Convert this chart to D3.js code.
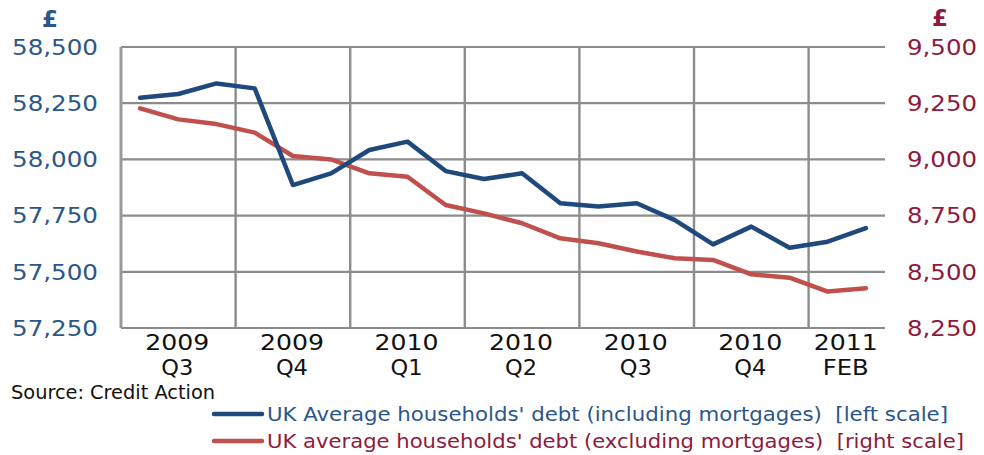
<!DOCTYPE html>
<html>
<head>
<meta charset="utf-8">
<script src="https://cdn.jsdelivr.net/npm/d3@7"></script>
<style>
  html, body { margin: 0; padding: 0; background: #fff; }
  svg { display: block; }
</style>
</head>
<body>
<svg id="chart" width="984" height="455"></svg>
<script>
// ---- data ----
const months = ["Jul 2009","Aug 2009","Sep 2009","Oct 2009","Nov 2009","Dec 2009",
  "Jan 2010","Feb 2010","Mar 2010","Apr 2010","May 2010","Jun 2010",
  "Jul 2010","Aug 2010","Sep 2010","Oct 2010","Nov 2010","Dec 2010",
  "Jan 2011","Feb 2011"];
const inclMortgages = [58274, 58291, 58338, 58316, 57886, 57938, 58042, 58079, 57948, 57913,
  57938, 57805, 57790, 57805, 57730, 57622, 57701, 57607, 57634, 57694];
const exclMortgages = [9227, 9178, 9157, 9119, 9015, 9000, 8938, 8923, 8797, 8760,
  8716, 8649, 8627, 8590, 8560, 8553, 8489, 8474, 8412, 8427];
const groupYears = ["2009","2009","2010","2010","2010","2010","2011"];
const groupLabels = ["Q3","Q4","Q1","Q2","Q3","Q4","FEB"];
const groupStarts = [0, 3, 6, 9, 12, 15, 18];
const groupSizes = [3, 3, 3, 3, 3, 3, 2];
const leftTicks = [57250, 57500, 57750, 58000, 58250, 58500];
const rightTicks = [8250, 8500, 8750, 9000, 9250, 9500];
const seriesNames = ["UK Average households' debt (including mortgages)  [left scale]",
  "UK average households' debt (excluding mortgages)  [right scale]"];
const sourceText = "Source: Credit Action";

// ---- layout ----
const L = 121, R = 885, T = 47, B = 328;
const blue = "#1f497d", red = "#c0504d";
const blueText = "#2b5689", redText = "#8e1a3c";
const tickFont = "'DejaVu Sans', sans-serif";
const condFont = "'Liberation Sans Narrow', 'DejaVu Sans Condensed', 'Roboto Condensed', sans-serif";

const svg = d3.select("#chart");
const x = d3.scaleBand().domain(months).range([L, R]).padding(0);
const yL = d3.scaleLinear().domain([57250, 58500]).range([B, T]);
const yR = d3.scaleLinear().domain([8250, 9500]).range([B, T]);
const cx = d => x(d) + x.bandwidth() / 2;

// horizontal gridlines
svg.append("g").selectAll("line").data(leftTicks).join("line")
  .attr("x1", L).attr("x2", R)
  .attr("y1", d => yL(d)).attr("y2", d => yL(d))
  .attr("stroke", "#8c8c8c").attr("stroke-width", 2.2);

// vertical gridlines at group boundaries
svg.append("g").selectAll("line").data(groupStarts).join("line")
  .attr("x1", d => x(months[d])).attr("x2", d => x(months[d]))
  .attr("y1", T).attr("y2", B)
  .attr("stroke", (d, i) => i === 0 ? "#9a9a9a" : "#8c8c8c")
  .attr("stroke-width", (d, i) => i === 0 ? 3 : 2.4);

// left axis
const axL = svg.append("g").attr("transform", `translate(${L},0)`)
  .call(d3.axisLeft(yL).tickValues(leftTicks).tickFormat(d3.format(",")).tickSize(0).tickPadding(23));
axL.select(".domain").remove();
axL.selectAll("text").attr("fill", blueText).attr("font-family", tickFont)
  .attr("font-size", 20.5).attr("dy", "0.36em")
  .attr("textLength", 86).attr("lengthAdjust", "spacingAndGlyphs");

// right axis
const axR = svg.append("g").attr("transform", `translate(${R},0)`)
  .call(d3.axisRight(yR).tickValues(rightTicks).tickFormat(d3.format(",")).tickSize(0).tickPadding(22));
axR.select(".domain").remove();
axR.selectAll("text").attr("fill", redText).attr("font-family", tickFont)
  .attr("font-size", 20.5).attr("dy", "0.36em")
  .attr("textLength", 70).attr("lengthAdjust", "spacingAndGlyphs");

// currency labels
svg.append("text").attr("x", 50).attr("y", 27).attr("text-anchor", "middle")
  .attr("fill", blueText).attr("font-family", tickFont).attr("font-size", 23)
  .attr("font-weight", "bold").text("£");
svg.append("text").attr("x", 940).attr("y", 26).attr("text-anchor", "middle")
  .attr("fill", redText).attr("font-family", tickFont).attr("font-size", 23)
  .attr("font-weight", "bold").text("£");

// x labels
const gx = svg.append("g");
groupStarts.forEach((s, i) => {
  const a = x(months[s]);
  const b = x(months[s + groupSizes[i] - 1]) + x.bandwidth();
  const mid = (a + b) / 2 - 1;
  gx.append("text").attr("x", mid).attr("y", 350).attr("text-anchor", "middle")
    .attr("fill", "#111").attr("font-family", tickFont).attr("font-size", 20.5)
    .attr("textLength", 64).attr("lengthAdjust", "spacingAndGlyphs").text(groupYears[i]);
  const w = groupLabels[i].length === 2 ? 32 : 46;
  gx.append("text").attr("x", mid).attr("y", 375).attr("text-anchor", "middle")
    .attr("fill", "#111").attr("font-family", tickFont).attr("font-size", 20.5)
    .attr("textLength", w).attr("lengthAdjust", "spacingAndGlyphs").text(groupLabels[i]);
});

// lines
const lineL = d3.line().x((d, i) => cx(months[i])).y(d => yL(d));
const lineR = d3.line().x((d, i) => cx(months[i])).y(d => yR(d));
svg.append("path").datum(exclMortgages).attr("d", lineR)
  .attr("fill", "none").attr("stroke", red).attr("stroke-width", 4.5)
  .attr("stroke-linejoin", "round").attr("stroke-linecap", "round");
svg.append("path").datum(inclMortgages).attr("d", lineL)
  .attr("fill", "none").attr("stroke", blue).attr("stroke-width", 4.5)
  .attr("stroke-linejoin", "round").attr("stroke-linecap", "round");

// source
svg.append("text").attr("x", 11).attr("y", 399).attr("fill", "#111")
  .attr("font-family", condFont).attr("font-size", 19)
  .attr("textLength", 204).attr("lengthAdjust", "spacingAndGlyphs").text(sourceText);

// legend
const legY = [414, 441];
const legColors = [blue, red];
const legText = [blueText, redText];
const legLen = [681, 697];
legY.forEach((yy, i) => {
  svg.append("line").attr("x1", 214).attr("x2", 262).attr("y1", yy).attr("y2", yy)
    .attr("stroke", legColors[i]).attr("stroke-width", 4.5).attr("stroke-linecap", "round");
  svg.append("text").attr("x", 267).attr("y", yy + 7).attr("fill", legText[i])
    .attr("font-family", condFont).attr("font-size", 19.5)
    .attr("textLength", legLen[i]).attr("lengthAdjust", "spacingAndGlyphs")
    .style("white-space", "pre").attr("xml:space", "preserve").text(seriesNames[i]);
});
</script>
</body>
</html>
